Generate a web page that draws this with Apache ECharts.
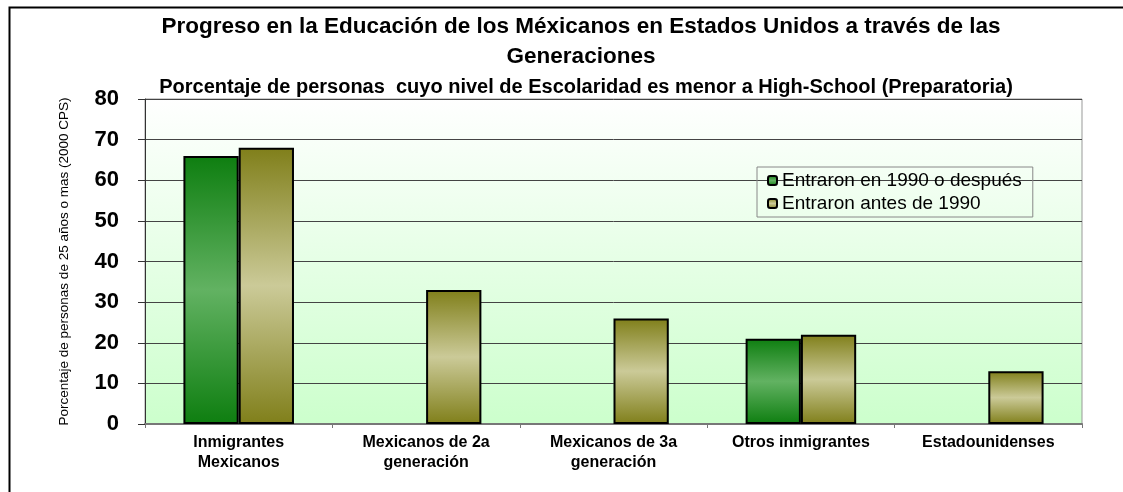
<!DOCTYPE html>
<html>
<head>
<meta charset="utf-8">
<script src="https://cdn.jsdelivr.net/npm/echarts@6/dist/echarts.min.js"></script>
<style>
  html, body { margin: 0; padding: 0; background: #fff; }
  #chart { width: 1123px; height: 492px; }
</style>
</head>
<body>
<div id="chart"></div>
<script>
const categories = ['Inmigrantes\nMexicanos', 'Mexicanos de 2a\ngeneración', 'Mexicanos de 3a\ngeneración', 'Otros inmigrantes', 'Estadounidenses'];
const despues1990 = [66, null, null, 21, null];
const antes1990 = [68, 33, 26, 22, 13];
const seriesNames = ['Entraron en 1990 o después', 'Entraron antes de 1990'];

// degradado vertical de las barras (oscuro - claro - oscuro)
function barFill(dark, light) {
    return new echarts.graphic.LinearGradient(0, 0, 0, 1, [
        { offset: 0, color: dark },
        { offset: 0.5, color: light },
        { offset: 1, color: dark }
    ]);
}

const myChart = echarts.init(document.getElementById('chart'));
const option = {
    backgroundColor: '#fff',
    textStyle: { fontFamily: 'Liberation Sans, Arial, sans-serif' },
    title: [
        {
            text: 'Progreso en la Educación de los Méxicanos en Estados Unidos a través de las\nGeneraciones',
            left: 576, top: 7, textAlign: 'center',
            textStyle: { fontSize: 22.5, fontWeight: 'bold', color: '#000', lineHeight: 30 }
        },
        {
            text: 'Porcentaje de personas  cuyo nivel de Escolaridad es menor a High-School (Preparatoria)',
            left: 581, top: 72, textAlign: 'center',
            textStyle: { fontSize: 20, fontWeight: 'bold', color: '#000' }
        }
    ],
    graphic: [
        {
            type: 'rect', left: 7, top: 5, silent: true,
            shape: { width: 1130, height: 500 },
            style: { fill: 'none', stroke: '#000', lineWidth: 2 }
        }
    ],
    legend: {
        orient: 'vertical',
        left: 757, top: 167,
        itemWidth: 9, itemHeight: 9,
        itemGap: 4,
        padding: [4, 11, 4, 10],
        borderColor: '#888', borderWidth: 1,
        backgroundColor: 'transparent',
        textStyle: { fontSize: 19, color: '#000' },
        data: seriesNames
    },
    grid: {
        left: 145, top: 99, width: 937, height: 325,
        show: true,
        borderColor: '#999', borderWidth: 1,
        backgroundColor: new echarts.graphic.LinearGradient(0, 0, 0, 1, [
            { offset: 0, color: '#ffffff' },
            { offset: 1, color: '#ccffcc' }
        ])
    },
    xAxis: {
        type: 'category',
        data: categories,
        axisLine: { lineStyle: { color: '#777', width: 2 } },
        axisTick: { show: true, length: 4, lineStyle: { color: '#777' } },
        axisLabel: { fontSize: 16, fontWeight: 'bold', color: '#000', margin: 9, lineHeight: 20 }
    },
    yAxis: {
        type: 'value',
        min: 0, max: 80, interval: 10,
        name: 'Porcentaje de personas de 25 años o mas (2000 CPS)',
        nameLocation: 'middle',
        nameGap: 74,
        nameTextStyle: { fontSize: 13.5, color: '#000' },
        axisLine: { show: true, lineStyle: { color: '#333' } },
        axisTick: { show: true, length: 7, lineStyle: { color: '#333' } },
        axisLabel: { fontSize: 22, fontWeight: 'bold', color: '#000', margin: 26 },
        splitLine: { lineStyle: { color: '#444', width: 1 } }
    },
    series: [
        {
            name: seriesNames[0],
            type: 'bar',
            data: despues1990,
            barGap: '0%',
            barCategoryGap: '41%',
            itemStyle: { color: barFill('#0e7e10', '#62b262'), borderColor: '#000', borderWidth: 2 }
        },
        {
            name: seriesNames[1],
            type: 'bar',
            data: antes1990,
            itemStyle: { color: barFill('#807f1a', '#cbca98'), borderColor: '#000', borderWidth: 2 }
        }
    ]
};
option && myChart.setOption(option);
</script>
</body>
</html>
